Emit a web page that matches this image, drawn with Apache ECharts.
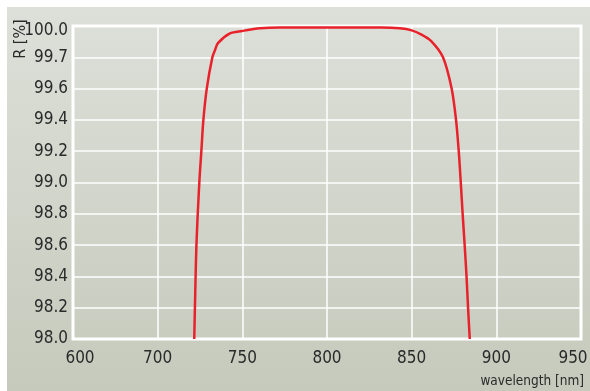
<!DOCTYPE html>
<html>
<head>
<meta charset="utf-8">
<script src="https://cdn.jsdelivr.net/npm/echarts@6/dist/echarts.min.js"></script>
<style>
html,body{margin:0;padding:0;background:#fff;}
#c{width:590px;height:391px;}
</style>
</head>
<body>
<div id="c"></div>
<script>
// wavelength [nm]
var wavelength = [721.6, 722.0, 722.9, 724.6, 725.8, 727.0, 729.0, 732.3, 733.9, 735.6, 742.7, 749.8, 760.4, 772.3, 800.0, 832.0, 843.0, 850.0, 855.5, 861.4, 868.5, 873.6, 876.2, 877.8, 879.0, 880.1, 881.3, 882.4, 883.3, 884.3];
// reflectance R [%]
var reflectance = [98.0, 98.2, 98.6, 99.0, 99.2, 99.4, 99.6, 99.8, 99.847, 99.891, 99.953, 99.968, 99.985, 99.99, 99.99, 99.99, 99.985, 99.972, 99.947, 99.905, 99.8, 99.6, 99.4, 99.2, 99.0, 98.8, 98.6, 98.4, 98.2, 98.0];

var xTickValues = [650, 700, 750, 800, 850, 900, 950];
var xTickLabels = ["600", "700", "750", "800", "850", "900", "950"];
var yTickValues = [98.0, 98.2, 98.4, 98.6, 98.8, 99.0, 99.2, 99.4, 99.6, 99.8, 100.0];
var yTickLabels = ["98.0", "98.2", "98.4", "98.6", "98.8", "99.0", "99.2", "99.4", "99.6", "99.7", "100.0"];

var FONT = "'DejaVu Sans Condensed', 'Liberation Sans Narrow', sans-serif";
var TXT = '#2a2a2a';

function lookup(vals, labels, v) {
  for (var i = 0; i < vals.length; i++) {
    if (Math.abs(vals[i] - v) < 1e-6) return labels[i];
  }
  return '';
}

var chart = echarts.init(document.getElementById('c'), null, {renderer: 'canvas'});
var pts = wavelength.map(function (w, i) { return [w, reflectance[i]]; });

chart.setOption({
  animation: false,
  backgroundColor: '#ffffff',
  graphic: [
    {
      type: 'rect', z: -100,
      shape: {x: 7, y: 7, width: 583, height: 384},
      style: {
        fill: new echarts.graphic.LinearGradient(0, 0, 0, 1, [
          {offset: 0, color: '#dde0d9'},
          {offset: 1, color: '#c6cabc'}
        ])
      }
    },
    {
      type: 'text', x: 21, y: 39, rotation: Math.PI / 2,
      style: {text: 'R [%]', font: '16px ' + FONT, fill: TXT, align: 'center', verticalAlign: 'middle'}
    }
  ],
  grid: {left: 73, right: 9, top: 26, bottom: 52, outerBoundsMode: 'none', containLabel: false, show: true, borderColor: '#ffffff', borderWidth: 3, backgroundColor: 'transparent'},
  xAxis: {
    type: 'value', min: 650, max: 950, interval: 50,
    name: 'wavelength [nm]', nameLocation: 'end', nameGap: 3,
    nameTextStyle: {fontFamily: FONT, fontSize: 13.5, color: TXT, align: 'right', verticalAlign: 'top', padding: [35, 0, 0, 0]},
    axisLine: {show: false}, axisTick: {show: false},
    splitLine: {show: true, lineStyle: {color: '#ffffff', width: 1.5}},
    axisLabel: {
      fontFamily: FONT, fontSize: 17, color: TXT, margin: 11,
      formatter: function (v) {
        var t = lookup(xTickValues, xTickLabels, v);
        if (v === xTickValues[0]) return '{f|' + t + '}';
        if (v === xTickValues[xTickValues.length - 1]) return '{l|' + t + '}';
        return t;
      },
      rich: {
        f: {fontFamily: FONT, fontSize: 17, color: TXT, padding: [0, 0, 0, 14]},
        l: {fontFamily: FONT, fontSize: 17, color: TXT, padding: [0, 16, 0, 0]}
      }
    }
  },
  yAxis: {
    type: 'value', min: 98, max: 100, interval: 0.2,
    axisLine: {show: false}, axisTick: {show: false},
    splitLine: {show: true, lineStyle: {color: '#ffffff', width: 1.5}},
    axisLabel: {
      fontFamily: FONT, fontSize: 17, color: TXT, margin: 5,
      formatter: function (v) {
        var t = lookup(yTickValues, yTickLabels, v);
        return Math.abs(v - 100) < 1e-6 ? '{t|' + t + '}' : t;
      },
      rich: {t: {fontFamily: FONT, fontSize: 17, color: TXT, padding: [10, 0, 0, 0]}}
    }
  },
  series: [{
    type: 'line', data: pts, showSymbol: false, smooth: 0.3,
    lineStyle: {color: '#e8212b', width: 2.5}, clip: true
  }]
});
</script>
</body>
</html>
